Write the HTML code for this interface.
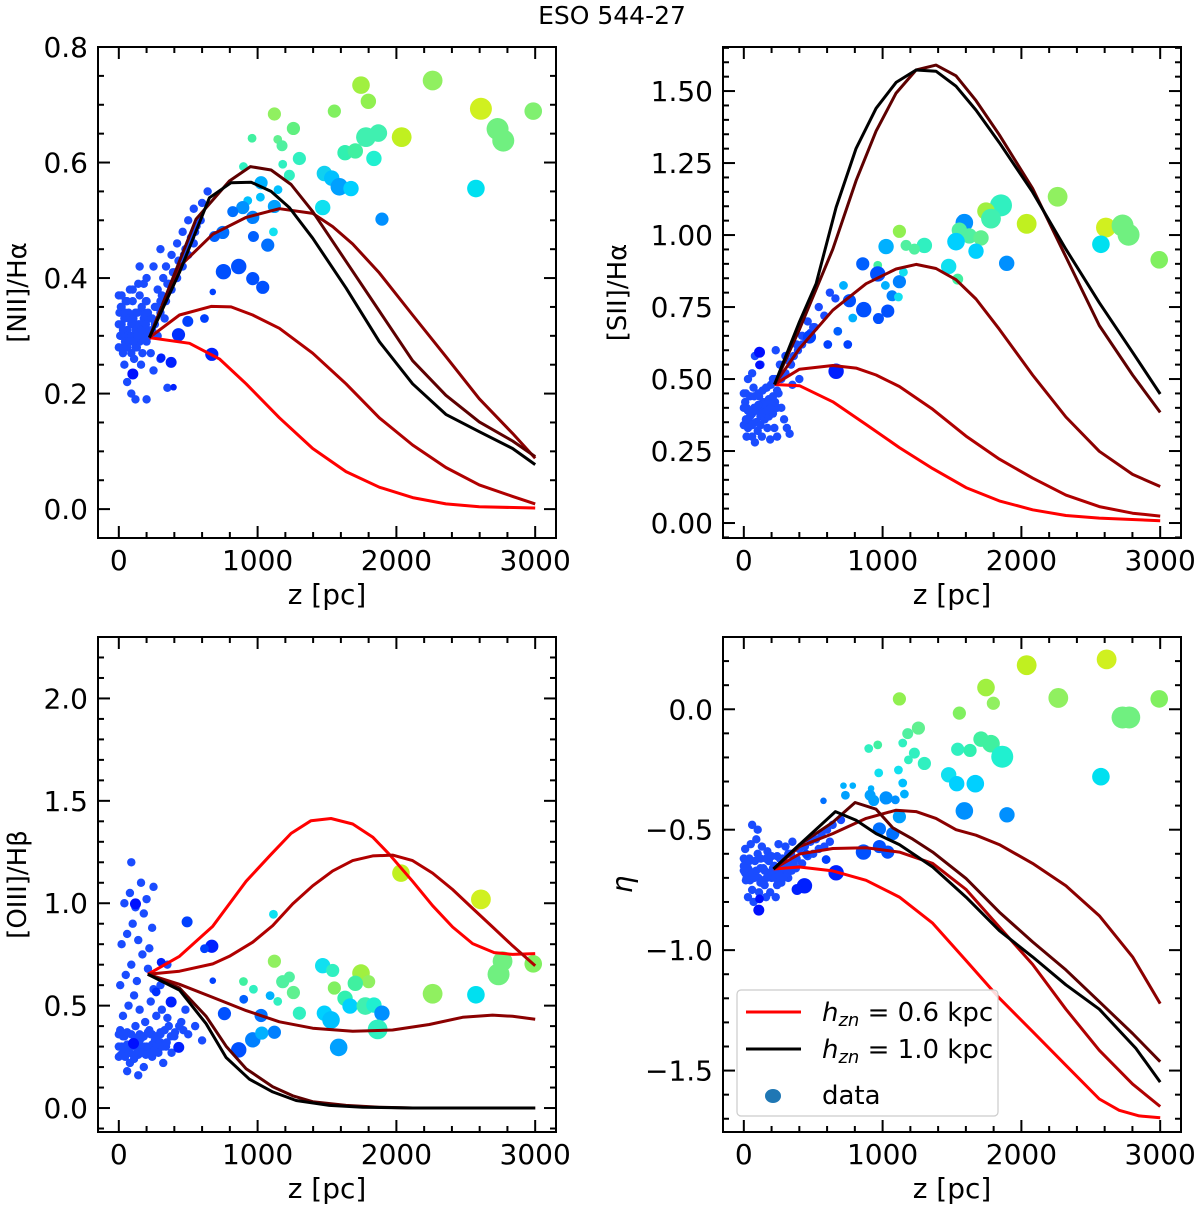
<!DOCTYPE html>
<html><head><meta charset="utf-8"><style>
body{margin:0;background:#fff}
svg{display:block;font-family:"DejaVu Sans","Liberation Sans",sans-serif}
</style></head><body>
<svg id="fig" width="1200" height="1206" viewBox="0 0 1200 1206" xmlns="http://www.w3.org/2000/svg">
<text x="612" y="24" font-size="25" text-anchor="middle">ESO 544-27</text>
</svg>
<script>
// Panel 1 [NII]/Ha
const p1Lines = [
 {z:[220,509,725,917,1157,1397,1637,1877,2117,2357,2597,3000], v:[0.297,0.287,0.26,0.217,0.158,0.105,0.065,0.038,0.02,0.009,0.004,0.002]},
 {z:[220,437,665,809,965,1157,1397,1637,1877,2117,2357,2597,2837,3000], v:[0.297,0.336,0.351,0.35,0.336,0.313,0.27,0.217,0.158,0.111,0.072,0.042,0.022,0.009]},
 {z:[220,437,677,917,1157,1397,1541,1685,1877,2117,2357,2597,2837,3000], v:[0.297,0.42,0.476,0.505,0.52,0.512,0.489,0.459,0.409,0.336,0.264,0.191,0.131,0.088]},
 {z:[220,557,797,948,1097,1241,1397,1637,1877,2117,2357,2597,2837,3000], v:[0.297,0.502,0.568,0.593,0.587,0.562,0.515,0.429,0.343,0.257,0.197,0.151,0.118,0.091]},
 {z:[220,437,653,809,953,1097,1229,1397,1637,1877,2117,2357,2597,2837,3000], v:[0.297,0.41,0.539,0.565,0.566,0.55,0.522,0.469,0.383,0.29,0.217,0.164,0.134,0.105,0.077]}
];
const p1BigZ=[1745,2261,1798,1121,1553,2609,2986,960,1258,1145,1176,1781,1870,2038,2729,2770,1301,1181,1630,1704,1838,898,1229,1481,1534,1589,1673,2573,1469,1896,1114,1025,1147,1020,929,1121,893,965,970,1073,864,754,965,1037,677,617,497,430,670,305,377,101,394,749,821,689];
const p1BigV=[0.734,0.742,0.706,0.684,0.689,0.693,0.689,0.642,0.659,0.640,0.629,0.644,0.651,0.644,0.658,0.638,0.607,0.597,0.617,0.620,0.607,0.593,0.578,0.581,0.573,0.558,0.555,0.555,0.522,0.502,0.480,0.565,0.553,0.540,0.534,0.524,0.522,0.505,0.472,0.457,0.420,0.411,0.399,0.384,0.376,0.330,0.325,0.302,0.268,0.262,0.254,0.234,0.211,0.479,0.515,0.472];
const p1BigR=[8,9,7,6,6,10,8,4,6,4,5,9,8,9,10,10,6,4,7,7,7,4,5,7,7,8,7,8,7,6,4,6,4,4,4,6,6,6,5,6,7,7,6,6,3,4,5,6,6,4,5,5,3,6,5,5];
const p1BigC=['#a0f040','#90f060','#90f050','#90f060','#80f060','#d0f020','#80f070','#40f0a0','#60f080','#60f090','#50f0a0','#40f0b0','#40f0b0','#c0f020','#70f080','#70f080','#30f0c0','#30f0c0','#30f0b0','#40f0a0','#20f0d0','#30f0c0','#30f0c0','#10d0f0','#00c0ff','#00a0ff','#00d0ff','#00e0f0','#10e0f0','#0090ff','#10e0f0','#00b0ff','#00c0ff','#00c0ff','#00c0ff','#00a0ff','#0090ff','#0080ff','#0060ff','#0070ff','#0050ff','#0050ff','#0050ff','#0050ff','#0040ff','#0040ff','#0040ff','#0030ff','#0020ff','#0020ff','#0020ff','#0010ff','#0020ff','#0070ff','#0070ff','#0060ff'];
const p1CluZ=[0,20,40,60,80,10,30,50,70,90,110,130,100,120,140,160,180,150,200,220,170,200,240,260,280,300,320,340,360,380,400,420,440,460,480,500,520,540,560,600,640,250,300,200,150,40,60,90,120,200,250,300,350,20,5,230,280,330,80,
 0,30,60,90,120,150,180,210,0,30,60,90,120,150,180,210,15,45,75,105,135,165,195,15,45,75,105,135,165,195,240,270,310,350,390,430,470,510,550,590,220,260,300,340,380,420,460,500,540,100,140,180,60,20,110,160];
const p1CluV=[0.37,0.35,0.33,0.31,0.29,0.30,0.28,0.36,0.34,0.32,0.30,0.28,0.36,0.34,0.32,0.30,0.34,0.37,0.36,0.33,0.27,0.29,0.31,0.35,0.38,0.36,0.40,0.42,0.39,0.44,0.41,0.46,0.43,0.48,0.45,0.50,0.47,0.52,0.49,0.53,0.55,0.42,0.45,0.40,0.42,0.25,0.22,0.20,0.19,0.19,0.24,0.26,0.21,0.32,0.34,0.27,0.30,0.33,0.38,
 0.28,0.27,0.28,0.27,0.28,0.29,0.30,0.31,0.32,0.31,0.30,0.30,0.31,0.32,0.33,0.34,0.35,0.34,0.33,0.33,0.34,0.35,0.36,0.30,0.29,0.29,0.29,0.30,0.31,0.32,0.33,0.35,0.37,0.39,0.41,0.43,0.44,0.46,0.48,0.50,0.30,0.32,0.34,0.36,0.38,0.40,0.42,0.44,0.46,0.38,0.39,0.39,0.36,0.37,0.26,0.25];

// Panel 2 [SII]/Ha
const p2Lines = [
 {z:[221,401,641,881,1121,1361,1601,1841,2081,2321,2561,3000], v:[0.481,0.477,0.421,0.342,0.262,0.189,0.123,0.077,0.046,0.026,0.017,0.008]},
 {z:[221,401,641,809,953,1121,1361,1601,1841,2081,2321,2561,2801,3000], v:[0.481,0.534,0.547,0.538,0.514,0.474,0.395,0.302,0.222,0.156,0.097,0.057,0.034,0.024]},
 {z:[221,401,641,881,1097,1241,1385,1529,1673,1841,2081,2321,2561,2801,3000], v:[0.481,0.606,0.739,0.831,0.882,0.898,0.884,0.845,0.778,0.673,0.514,0.368,0.249,0.169,0.127]},
 {z:[221,401,641,809,953,1097,1241,1385,1529,1673,1841,2081,2321,2561,2801,3000], v:[0.481,0.673,0.951,1.189,1.361,1.493,1.573,1.59,1.553,1.467,1.348,1.162,0.924,0.686,0.514,0.384]},
 {z:[221,401,521,665,809,953,1097,1241,1385,1529,1673,1841,2081,2321,2561,2801,3000], v:[0.481,0.699,0.831,1.096,1.301,1.44,1.53,1.573,1.569,1.517,1.434,1.321,1.149,0.951,0.765,0.593,0.448]}
];
const p2BigZ=[2261,1853,1745,1781,1589,2038,2609,2729,2772,1121,1553,1625,1709,1529,1301,1169,1229,1025,1673,2573,2993,1894,1476,1541,965,857,965,1121,1150,1020,1068,1114,1037,864,970,761,785,718,665,113,113,473,749,605,677];
const p2BigV=[1.133,1.103,1.083,1.057,1.043,1.039,1.026,1.033,1.001,1.013,1.017,0.997,0.990,0.977,0.964,0.964,0.951,0.960,0.944,0.968,0.914,0.902,0.891,0.847,0.895,0.900,0.865,0.838,0.871,0.825,0.789,0.785,0.736,0.741,0.710,0.772,0.712,0.825,0.527,0.593,0.549,0.646,0.620,0.620,0.666];
const p2BigR=[9,10,8,9,8,9,9,10,10,6,7,7,7,8,7,5,5,7,7,8,8,7,7,5,4,6,7,6,4,4,5,4,6,7,5,6,4,4,7,5,4,6,4,4,4];
const p2BigC=['#90f060','#30f0c0','#a0f040','#40f0b0','#0090ff','#c0f020','#d0f020','#70f080','#70f080','#90f050','#50f0a0','#50f0a0','#60f090','#00d0ff','#30f0c0','#50f0a0','#50f0a0','#00b0ff','#00d0ff','#00e0f0','#80f060','#0090ff','#10e0f0','#40f0a0','#40f0a0','#0060ff','#0050ff','#0080ff','#10e0f0','#00b0ff','#0080ff','#10e0f0','#0050ff','#0050ff','#0050ff','#0050ff','#00b0ff','#00b0ff','#0020ff','#0010ff','#0010ff','#0040ff','#0040ff','#0040ff','#0060ff'];
const p2CluZ=[0,20,40,60,80,100,120,140,160,180,200,220,240,30,70,110,150,190,10,50,90,130,170,210,250,270,290,310,330,260,300,340,380,420,460,500,540,580,620,660,350,400,120,80,230,60,20,
 0,30,60,90,120,150,180,210,240,0,30,60,90,120,150,180,210,240,15,45,75,105,135,165,195,225,15,45,75,105,135,165,195,225,270,300,330,360,390,420,450,480,510];
const p2CluV=[0.45,0.40,0.35,0.30,0.28,0.32,0.37,0.42,0.47,0.43,0.38,0.33,0.30,0.50,0.47,0.44,0.36,0.29,0.42,0.38,0.35,0.30,0.33,0.50,0.45,0.40,0.36,0.33,0.31,0.55,0.58,0.55,0.62,0.65,0.70,0.68,0.75,0.72,0.80,0.78,0.48,0.50,0.55,0.58,0.60,0.52,0.30,
 0.34,0.33,0.34,0.35,0.34,0.36,0.37,0.38,0.40,0.40,0.39,0.38,0.39,0.40,0.41,0.42,0.44,0.46,0.45,0.44,0.44,0.45,0.46,0.47,0.48,0.50,0.36,0.37,0.40,0.41,0.38,0.39,0.40,0.42,0.50,0.52,0.56,0.58,0.60,0.62,0.64,0.66,0.68];

// Panel 3 [OIII]/Hb
const p3Lines = [
 {z:[209,437,677,917,1097,1241,1385,1529,1685,1829,1949,2117,2261,2405,2549,2705,2837,3000], v:[0.653,0.741,0.888,1.107,1.239,1.341,1.403,1.414,1.387,1.323,1.239,1.107,0.988,0.884,0.803,0.759,0.75,0.754]},
 {z:[209,437,677,797,965,1109,1253,1397,1541,1685,1829,1973,2117,2261,2405,2549,2693,2837,3000], v:[0.653,0.668,0.704,0.741,0.81,0.891,0.997,1.085,1.158,1.208,1.231,1.235,1.208,1.147,1.067,0.975,0.884,0.792,0.695]},
 {z:[209,437,677,917,1157,1397,1685,1973,2237,2477,2693,2837,3000], v:[0.653,0.604,0.54,0.476,0.421,0.39,0.375,0.381,0.408,0.443,0.454,0.448,0.434]},
 {z:[209,437,629,773,917,1109,1253,1397,1637,1877,2117,3000], v:[0.653,0.586,0.448,0.302,0.192,0.104,0.06,0.031,0.013,0.004,0.0,0.0]},
 {z:[209,437,629,773,941,1109,1277,1517,1757,2117,3000], v:[0.653,0.576,0.412,0.247,0.141,0.079,0.037,0.013,0.004,0.0,0.0]}
];
const p3BigZ=[2033,2609,1114,2765,2986,2736,2261,2573,1745,1800,1704,1553,1469,1541,1121,1229,1181,1258,898,970,1630,1666,1776,1838,1896,1865,1301,1481,1529,1584,1145,1090,1025,1121,965,1030,864,900,761,492,670,617,305,269,377,120,106,432,677];
const p3BigV=[1.147,1.019,0.946,0.717,0.704,0.653,0.558,0.553,0.659,0.617,0.609,0.586,0.695,0.672,0.717,0.640,0.617,0.564,0.618,0.580,0.536,0.498,0.498,0.503,0.463,0.384,0.463,0.463,0.430,0.296,0.521,0.549,0.452,0.370,0.333,0.366,0.284,0.531,0.461,0.909,0.790,0.778,0.712,0.567,0.518,0.997,0.315,0.296,0.622];
const p3BigR=[8,9,4,9,8,10,9,8,8,6,7,6,7,6,6,5,6,6,4,4,7,7,8,7,7,9,6,7,8,8,4,4,6,6,7,6,7,4,6,5,6,4,4,4,5,5,5,5,3];
const p3BigC=['#c0f020','#d0f020','#10e0f0','#70f080','#80f060','#70f080','#90f060','#00e0f0','#a0f040','#90f060','#40f0a0','#80f060','#10e0f0','#30f0c0','#90f060','#50f0a0','#50f0a0','#60f090','#40f0a0','#30f0c0','#30f0b0','#00d0ff','#40f0b0','#20f0d0','#0090ff','#30f0c0','#30f0c0','#00d0ff','#00c0ff','#00a0ff','#30f0c0','#00b0ff','#0070ff','#0080ff','#0080ff','#00b0ff','#0050ff','#0060ff','#0050ff','#0040ff','#0020ff','#0040ff','#0020ff','#0030ff','#0020ff','#0010ff','#0010ff','#0020ff','#0040ff'];
const p3CluZ=[0,20,40,60,80,100,120,140,160,180,200,220,240,260,280,300,320,340,360,380,400,30,70,110,150,190,230,270,310,350,10,50,90,130,170,210,250,20,60,100,140,180,220,40,80,120,160,200,240,90,60,140,450,500,550,600,480,300,350,250,10,50,110,170,230,290,
 0,30,60,90,120,150,180,210,240,270,300,330,0,30,60,90,120,150,180,210,240,270,300,330,15,45,75,105,135,165,195,225,255,285,315,345,375,405,435,465];
const p3CluV=[0.25,0.30,0.35,0.28,0.22,0.32,0.40,0.26,0.34,0.20,0.30,0.38,0.25,0.33,0.28,0.36,0.22,0.30,0.40,0.27,0.35,0.45,0.50,0.55,0.48,0.42,0.52,0.45,0.48,0.44,0.60,0.65,0.70,0.62,0.75,0.68,0.58,0.80,0.85,0.90,0.82,0.95,0.78,1.00,1.05,0.98,1.10,1.02,0.88,1.20,0.18,0.16,0.42,0.36,0.40,0.33,0.48,0.60,0.70,1.08,0.38,0.28,0.24,0.30,0.36,0.32,
 0.30,0.29,0.31,0.30,0.32,0.31,0.30,0.29,0.31,0.30,0.32,0.31,0.36,0.35,0.37,0.36,0.34,0.36,0.35,0.37,0.36,0.35,0.37,0.38,0.26,0.25,0.27,0.26,0.28,0.27,0.26,0.27,0.28,0.27,0.30,0.32,0.35,0.37,0.40,0.38];

// Panel 4 eta
const p4Lines = [
 {z:[214,401,641,881,1121,1361,1601,1841,2081,2321,2561,2705,2849,3000], v:[-0.663,-0.655,-0.671,-0.71,-0.78,-0.888,-1.043,-1.199,-1.338,-1.478,-1.618,-1.665,-1.688,-1.696]},
 {z:[214,401,641,881,1121,1361,1601,1841,2081,2321,2561,2801,3000], v:[-0.663,-0.601,-0.578,-0.575,-0.593,-0.64,-0.748,-0.904,-1.059,-1.245,-1.416,-1.556,-1.649]},
 {z:[214,401,641,881,1097,1241,1385,1529,1673,1841,2081,2321,2561,2801,3000], v:[-0.663,-0.57,-0.516,-0.453,-0.419,-0.425,-0.453,-0.5,-0.523,-0.562,-0.64,-0.733,-0.857,-1.028,-1.222]},
 {z:[214,401,641,802,953,1073,1217,1361,1601,1841,2081,2321,2561,2801,3000], v:[-0.663,-0.562,-0.469,-0.387,-0.415,-0.492,-0.539,-0.593,-0.702,-0.842,-0.966,-1.082,-1.214,-1.346,-1.463]},
 {z:[214,401,660,809,953,1121,1361,1601,1841,2081,2321,2561,2825,3000], v:[-0.663,-0.562,-0.425,-0.461,-0.516,-0.562,-0.655,-0.78,-0.919,-1.028,-1.144,-1.245,-1.408,-1.548]}
];
const p4BigZ=[2038,2614,1745,2266,2993,1798,1121,1553,2729,2777,1258,1181,1709,1781,965,900,1145,1541,1630,1229,1862,1186,1301,1114,1476,2573,972,1534,1668,1145,718,785,917,1157,910,1025,1092,936,732,574,1589,1896,1121,977,1073,862,977,1037,665,437,384,108,113,449,593];
const p4BigV=[0.183,0.207,0.090,0.047,0.043,0.025,0.043,-0.016,-0.034,-0.034,-0.078,-0.101,-0.124,-0.143,-0.148,-0.163,-0.140,-0.166,-0.171,-0.182,-0.197,-0.210,-0.225,-0.252,-0.272,-0.280,-0.264,-0.309,-0.309,-0.306,-0.317,-0.317,-0.329,-0.352,-0.357,-0.368,-0.376,-0.379,-0.357,-0.380,-0.422,-0.438,-0.446,-0.497,-0.516,-0.593,-0.570,-0.593,-0.679,-0.733,-0.748,-0.834,-0.787,-0.601,-0.624];
const p4BigR=[9,9,8,9,8,6,6,6,10,10,6,5,7,8,4,4,4,6,6,5,10,4,6,4,7,8,4,7,8,4,3,3,3,4,5,6,4,5,4,3,8,7,6,6,6,7,6,6,7,7,5,5,4,4,4];
const p4BigC=['#c0f020','#d0f020','#a0f040','#90f060','#80f060','#90f060','#90f050','#80f060','#70f080','#70f080','#60f090','#50f0a0','#40f0a0','#40f0a0','#40f0a0','#30f0c0','#30f0c0','#30f0c0','#30f0b0','#30f0c0','#20f0d0','#30f0c0','#30f0c0','#10e0f0','#10e0f0','#00e0f0','#10e0f0','#00d0ff','#00d0ff','#00c0ff','#00b0ff','#00b0ff','#00b0ff','#00b0ff','#00a0ff','#0090ff','#0090ff','#00a0ff','#00a0ff','#0070ff','#0090ff','#0090ff','#00a0ff','#0070ff','#0070ff','#0050ff','#0050ff','#0050ff','#0020ff','#0020ff','#0020ff','#0010ff','#0010ff','#0040ff','#0040ff'];
const p4CluZ=[0,20,40,60,80,100,120,140,160,180,200,220,240,260,280,300,320,340,360,380,10,50,90,130,170,30,70,110,150,190,230,400,440,480,520,560,600,640,700,420,460,500,540,580,620,250,300,350,100,60,10,40,200,270,330,
 0,30,60,90,120,150,180,210,240,270,300,330,360,15,45,75,105,135,165,195,225,255,285,315,345,375,0,40,80,120,160,200,240,280,320];
const p4CluV=[-0.65,-0.70,-0.62,-0.75,-0.68,-0.60,-0.72,-0.66,-0.78,-0.63,-0.70,-0.65,-0.73,-0.62,-0.68,-0.64,-0.70,-0.60,-0.66,-0.62,-0.58,-0.56,-0.54,-0.57,-0.59,-0.78,-0.80,-0.76,-0.73,-0.76,-0.78,-0.58,-0.57,-0.55,-0.54,-0.52,-0.50,-0.48,-0.46,-0.64,-0.61,-0.60,-0.58,-0.57,-0.55,-0.56,-0.57,-0.55,-0.50,-0.48,-0.68,-0.67,-0.68,-0.72,-0.66,
 -0.67,-0.66,-0.68,-0.67,-0.66,-0.67,-0.68,-0.66,-0.67,-0.66,-0.65,-0.64,-0.64,-0.71,-0.71,-0.70,-0.70,-0.71,-0.70,-0.69,-0.70,-0.69,-0.70,-0.68,-0.67,-0.66,-0.62,-0.63,-0.63,-0.62,-0.62,-0.61,-0.61,-0.62,-0.60];

const lineColors=['#ff0000','#b00000','#8b0000','#5e0000','#000000'];
const NS='http://www.w3.org/2000/svg';
const svg=document.getElementById('fig');
function mk(tag,attrs,parent){const e=document.createElementNS(NS,tag);for(const k in attrs)e.setAttribute(k,attrs[k]);(parent||svg).appendChild(e);return e;}

const panels=[
 {id:'nii',x0:98,x1:556,y0:47,y1:538,ymin:-0.05,ymax:0.8,major:[0,0.2,0.4,0.6,0.8],fmt:1,minorStep:0.05,ylabel:'[NII]/H\u03b1',ylx:26,lines:p1Lines,bz:p1BigZ,bv:p1BigV,br:p1BigR,bc:p1BigC,cz:p1CluZ,cv:p1CluV},
 {id:'sii',x0:723,x1:1181,y0:47,y1:538,ymin:-0.052,ymax:1.653,major:[0,0.25,0.5,0.75,1,1.25,1.5],fmt:2,minorStep:0.05,ylabel:'[SII]/H\u03b1',ylx:626,lines:p2Lines,bz:p2BigZ,bv:p2BigV,br:p2BigR,bc:p2BigC,cz:p2CluZ,cv:p2CluV},
 {id:'oiii',x0:98,x1:556,y0:637,y1:1132,ymin:-0.117,ymax:2.3,major:[0,0.5,1,1.5,2],fmt:1,minorStep:0.1,ylabel:'[OIII]/H\u03b2',ylx:26,lines:p3Lines,bz:p3BigZ,bv:p3BigV,br:p3BigR,bc:p3BigC,cz:p3CluZ,cv:p3CluV},
 {id:'eta',x0:723,x1:1181,y0:637,y1:1132,ymin:-1.755,ymax:0.30,major:[-1.5,-1,-0.5,0],fmt:1,minorStep:0.1,ylabel:'\u03b7',ylx:632,lines:p4Lines,bz:p4BigZ,bv:p4BigV,br:p4BigR,bc:p4BigC,cz:p4CluZ,cv:p4CluV}
];
const xMin=-150,xMax=3150;
const xMajor=[0,1000,2000,3000];

panels.forEach(p=>{
 const g=mk('g',{});
 
 
 const X=z=>p.x0+(z-xMin)/(xMax-xMin)*(p.x1-p.x0);
 const Y=v=>p.y1-(v-p.ymin)/(p.ymax-p.ymin)*(p.y1-p.y0);
 const clipId='clip-'+p.id;
 const cp=mk('clipPath',{id:clipId},g);mk('rect',{x:p.x0,y:p.y0,width:p.x1-p.x0,height:p.y1-p.y0},cp);
 const dg=mk('g',{'clip-path':'url(#'+clipId+')'},g);
 p.cz.forEach((z,i)=>{const c=mk('circle',{cx:X(z),cy:Y(p.cv[i]),r:4.2,fill:'#1a4cff'},dg);
  
  });
 p.bz.forEach((z,i)=>{const c=mk('circle',{cx:X(z),cy:Y(p.bv[i]),r:p.br[i]*1.1,fill:p.bc[i]},dg);
  
  });
 p.lines.forEach((L,k)=>{const d=L.z.map((z,i)=>(i?'L':'M')+X(z).toFixed(1)+','+Y(L.v[i]).toFixed(1)).join('');
  const pa=mk('path',{d:d,fill:'none',stroke:lineColors[k],'stroke-width':3,'stroke-linejoin':'round'},dg);
  
  });
 const fr=mk('rect',{x:p.x0,y:p.y0,width:p.x1-p.x0,height:p.y1-p.y0,fill:'none',stroke:'#000','stroke-width':2},g);
 
 
 for(let z=0;z<=3000;z+=200){const maj=z%1000===0,len=maj?12:6,x=X(z);
  mk('line',{x1:x,x2:x,y1:p.y1,y2:p.y1-len,stroke:'#000','stroke-width':2},g);
  mk('line',{x1:x,x2:x,y1:p.y0,y2:p.y0+len,stroke:'#000','stroke-width':2},g);}
 xMajor.forEach(z=>{const t=mk('text',{x:X(z),y:p.y1+32,'font-size':28,'text-anchor':'middle'},g);t.textContent=z;
  
  });
 const xl=mk('text',{x:(p.x0+p.x1)/2,y:p.y1+66,'font-size':28,'text-anchor':'middle'},g);xl.textContent='z [pc]';
 
 
 const s0=Math.ceil(p.ymin/p.minorStep-1e-6);
 for(let k=s0;k*p.minorStep<=p.ymax+1e-9;k++){const v=k*p.minorStep,y=Y(v);
  const maj=p.major.some(m=>Math.abs(m-v)<1e-6),len=maj?12:6;
  mk('line',{x1:p.x0,x2:p.x0+len,y1:y,y2:y,stroke:'#000','stroke-width':2},g);
  mk('line',{x1:p.x1,x2:p.x1-len,y1:y,y2:y,stroke:'#000','stroke-width':2},g);}
 p.major.forEach(v=>{const t=mk('text',{x:p.x0-10,y:Y(v)+10,'font-size':28,'text-anchor':'end'},g);
  t.textContent=(v<0?'\u2212':'')+Math.abs(v).toFixed(p.fmt);
  
  });
 const cy=(p.y0+p.y1)/2;
 const yl=mk('text',{x:p.ylx,y:cy,'font-size':26,'text-anchor':'middle',transform:'rotate(-90 '+p.ylx+' '+cy+')'},g);
 if(p.id==='eta'){yl.setAttribute('font-style','italic');yl.setAttribute('font-size','28');}
 yl.textContent=p.ylabel;
 
 
});

const lg=mk('g',{});


mk('rect',{x:737,y:990,width:261,height:126,rx:4,fill:'#fff','fill-opacity':0.85,stroke:'#ccc','stroke-width':1.2},lg);
const legItems=[['#ff0000','0.6'],['#000000','1.0']];
legItems.forEach((it,i)=>{const y=1012+i*37;
 const e=mk('g',{},lg);
 
 
 mk('line',{x1:746,x2:801,y1:y,y2:y,stroke:it[0],'stroke-width':3},e);
 const t=mk('text',{x:822,y:y+9,'font-size':26},e);
 t.innerHTML='<tspan font-style="italic">h</tspan><tspan font-style="italic" font-size="18" dy="5">zn</tspan><tspan dy="-5"> = '+it[1]+' kpc</tspan>';
});
const de=mk('g',{},lg);


mk('ellipse',{cx:773,cy:1096,rx:8,ry:7,fill:'#1f77b4'},de);
const dt=mk('text',{x:822,y:1104,'font-size':26},de);dt.textContent='data';
</script>
</body></html>
